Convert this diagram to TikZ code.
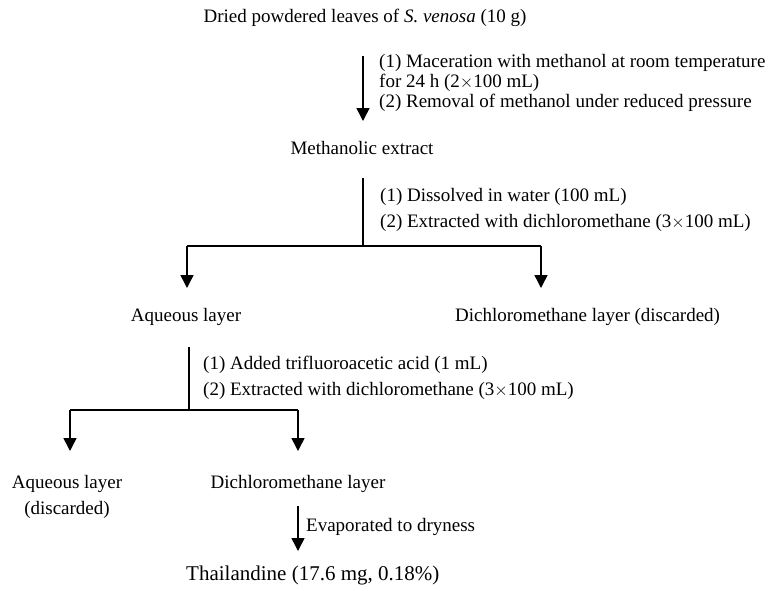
\documentclass[tikz,border=0pt]{standalone}
\usepackage{fontspec}
\setmainfont{Liberation Serif}
\usetikzlibrary{arrows.meta}
\begin{document}
\begin{tikzpicture}[x=1pt,y=-1pt,
  txt/.style={inner sep=0pt,font=\fontsize{19}{20}\selectfont,align=left},
  big/.style={inner sep=0pt,font=\fontsize{21}{22}\selectfont},
  flow/.style={line width=1.5pt,-{Triangle[width=13pt,length=13pt]}},
  ln/.style={line width=1.5pt}]
\useasboundingbox (0,0) rectangle (774,590);
\node[txt] (src) at (365,18) {Dried powdered leaves of \textit{S. venosa} (10 g)};
\coordinate (a1s) at (363,56);
\coordinate (a1e) at (363,121);
\draw[flow] (a1s) -- (a1e);
\node[txt,anchor=west] (l1) at (379,83) {(1) Maceration with methanol at room temperature\\for 24 h (2$\times$100 mL)\\(2) Removal of methanol under reduced pressure};
\node[txt] (me) at (362,148) {Methanolic extract};
\coordinate (b1s) at (363,178);
\coordinate (b1m) at (363,246);
\coordinate (bL) at (187,246);
\coordinate (bR) at (541,246);
\coordinate (bLe) at (187,288);
\coordinate (bRe) at (541,288);
\draw[ln] (b1s) -- (b1m);
\draw[ln] (bL) -- (bR);
\draw[flow] (bL) -- (bLe);
\draw[flow] (bR) -- (bRe);
\node[txt,anchor=west] (l2) at (380,210) {(1) Dissolved in water (100 mL)\\[6pt](2) Extracted with dichloromethane (3$\times$100 mL)};
\node[txt] (aq1) at (186,317) {Aqueous layer};
\node[txt,anchor=west] (dcm1) at (455,317) {Dichloromethane layer (discarded)};
\coordinate (c1s) at (189,347);
\coordinate (c1m) at (189,410);
\coordinate (cL) at (70,410);
\coordinate (cR) at (298,410);
\coordinate (cLe) at (70,451);
\coordinate (cRe) at (298,451);
\draw[ln] (c1s) -- (c1m);
\draw[ln] (cL) -- (cR);
\draw[flow] (cL) -- (cLe);
\draw[flow] (cR) -- (cRe);
\node[txt,anchor=west] (l3) at (203,378) {(1) Added trifluoroacetic acid (1 mL)\\[6pt](2) Extracted with dichloromethane (3$\times$100 mL)};
\node[txt,align=center] (aq2) at (67,497) {Aqueous layer\\[6pt](discarded)};
\node[txt] (dcm2) at (298,484) {Dichloromethane layer};
\coordinate (d1s) at (298,506);
\coordinate (d1e) at (298,551);
\draw[flow] (d1s) -- (d1e);
\node[txt,anchor=west] (l4) at (306,527) {Evaporated to dryness};
\node[big,anchor=west] (th) at (186,575) {Thailandine (17.6 mg, 0.18\%)};
\end{tikzpicture}
\end{document}
